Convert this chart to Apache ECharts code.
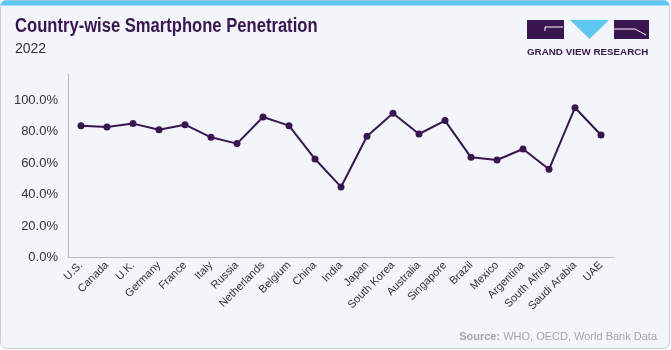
<!DOCTYPE html>
<html>
<head>
<meta charset="utf-8">
<script src="https://cdn.jsdelivr.net/npm/echarts@6/dist/echarts.min.js"></script>
<style>
  html, body { margin: 0; padding: 0; background: #fff; }
  #chart { width: 671px; height: 350px; }
</style>
</head>
<body>
<div id="chart"></div>
<script>
// Country-wise smartphone penetration, 2022
const countries = ["U.S.", "Canada", "U.K.", "Germany", "France", "Italy", "Russia", "Netherlands", "Belgium", "China", "India", "Japan", "South Korea", "Australia", "Singapore", "Brazil", "Mexico", "Argentina", "South Africa", "Saudi Arabia", "UAE"];
const penetration = [83.7, 82.9, 85.0, 81.1, 84.3, 76.3, 72.3, 89.2, 83.7, 62.5, 44.8, 77.0, 91.6, 78.4, 86.9, 63.6, 61.9, 68.9, 56.0, 95.1, 77.8];
const yTicks = [0, 20, 40, 60, 80, 100];

const purple = "#3a1650";
const blue = "#5ec8f3";
const font = "'Liberation Sans', Roboto, sans-serif";

const chart = echarts.init(document.getElementById("chart"));

const option = {
    backgroundColor: "#fff",
    animation: false,
    graphic: [
        // card
        { type: "rect", shape: { x: 0.5, y: 0.5, width: 669, height: 348, r: 6 }, style: { fill: "#f2f5f9", stroke: "#c8cbd0", lineWidth: 1 }, z: -10 },
        { type: "rect", shape: { x: 0.5, y: 0.5, width: 669, height: 5, r: [6, 6, 0, 0] }, style: { fill: blue }, z: -9 },
        // titles (title font in the picture is condensed, so squeeze it)
        { type: "text", x: 15, y: 16, scaleX: 0.83, scaleY: 1.05, style: { text: "Country-wise Smartphone Penetration", fill: purple, font: "bold 20px " + font, textVerticalAlign: "top" } },
        { type: "text", x: 15, y: 42, style: { text: "2022", fill: "#333", font: "14px " + font, textVerticalAlign: "top" } },
        // logo
        { type: "rect", shape: { x: 527, y: 20, width: 37, height: 19 }, style: { fill: purple } },
        { type: "polyline", shape: { points: [[563, 27], [545, 27], [545, 31]] }, style: { stroke: "#fff", lineWidth: 1, fill: null } },
        { type: "polygon", shape: { points: [[570, 20], [609, 20], [589.5, 39]] }, style: { fill: blue } },
        { type: "rect", shape: { x: 614, y: 20, width: 35, height: 19 }, style: { fill: purple } },
        { type: "polyline", shape: { points: [[614, 29], [635, 29], [646, 35]] }, style: { stroke: "#fff", lineWidth: 1, fill: null } },
        { type: "text", x: 527, y: 47, style: { text: "GRAND VIEW RESEARCH", fill: purple, font: "bold 9.8px " + font, textVerticalAlign: "top" } },
        // source
        {
            type: "text", right: 14, top: 331,
            style: {
                text: "{b|Source:} WHO, OECD, World Bank Data",
                fill: "#a3a6ab",
                font: "11px " + font,
                rich: { b: { fontWeight: "bold", fill: "#a3a6ab", fontSize: 11, fontFamily: font } }
            }
        }
    ],
    grid: {
        left: 68,
        top: 74,
        width: 546,
        height: 183.5
    },
    xAxis: {
        type: "category",
        data: countries,
        boundaryGap: true,
        axisLine: { lineStyle: { color: "#b4b7bc", width: 1 } },
        axisTick: { show: false },
        axisLabel: {
            rotate: 45,
            interval: 0,
            margin: 6,
            color: "#333",
            fontSize: 11,
            fontFamily: font
        }
    },
    yAxis: {
        type: "value",
        min: 0,
        max: 116.5,
        interval: 20,
        axisLine: { show: true, lineStyle: { color: "#b4b7bc", width: 1 } },
        axisTick: { show: false },
        splitLine: { show: false },
        axisLabel: {
            showMaxLabel: false,
            margin: 10,
            color: "#333",
            fontSize: 13,
            fontFamily: font,
            formatter: v => (yTicks.includes(v) ? v.toFixed(1) + "%" : "")
        }
    },
    series: [
        {
            type: "line",
            data: penetration,
            symbol: "circle",
            symbolSize: 7,
            lineStyle: { color: purple, width: 2 },
            itemStyle: { color: purple }
        }
    ]
};

chart.setOption(option);
</script>
</body>
</html>
